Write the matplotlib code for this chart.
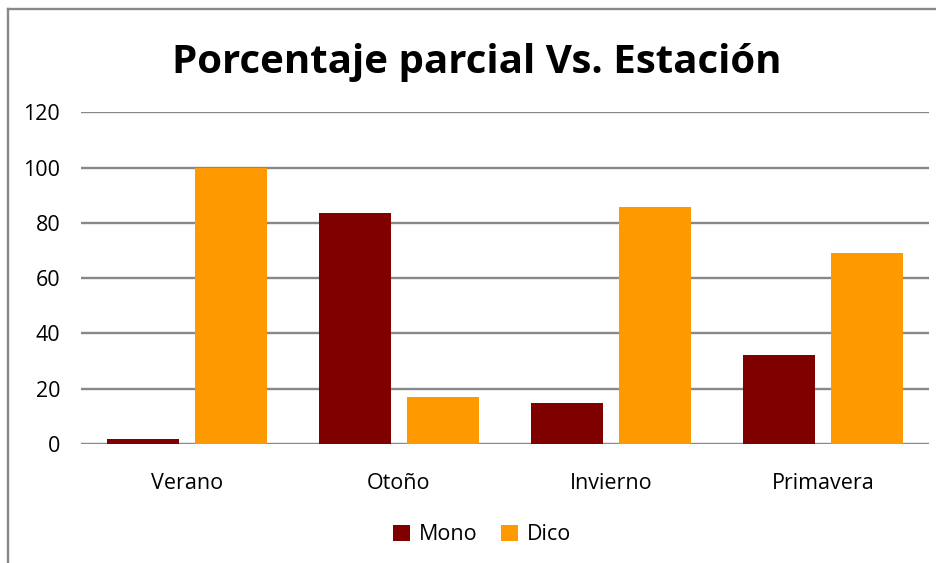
import matplotlib
matplotlib.use("Agg")
import matplotlib.pyplot as plt
import numpy as np

categories = ["Verano", "Otoño", "Invierno", "Primavera"]
mono = [1.8, 83.6, 14.8, 32.2]
dico = [100.0, 17.0, 85.7, 69.1]
yticks = [0, 20, 40, 60, 80, 100, 120]

plt.rcParams['font.family'] = ['Open Sans', 'DejaVu Sans']

W, H = 936, 563
fig = plt.figure(figsize=(W/100, H/100), dpi=100)
ax = fig.add_axes([81/W, 1-444/H, (929-81)/W, (444-112.3)/H])

x = np.arange(len(categories))
bw = 0.34
off = 0.209
ax.bar(x - off, mono, bw, color="#800000", label="Mono", zorder=3)
ax.bar(x + off, dico, bw, color="#FF9900", label="Dico", zorder=3)

ax.set_xlim(-0.5, len(categories) - 0.5)
ax.set_ylim(0, 120)
ax.set_yticks(yticks)
ax.set_yticklabels([str(t) for t in yticks], fontsize=15.5)
ax.set_xticks(x)
ax.set_xticklabels(categories, fontsize=15.5)
ax.tick_params(axis='y', length=0, pad=15)
ax.tick_params(axis='x', length=0, pad=21)
ax.yaxis.grid(True, color="#888888", linewidth=1.7, zorder=0)
for s in ax.spines.values():
    s.set_visible(False)

fig.text(477/W, 1-62/H, "Porcentaje parcial Vs. Estación", ha='center', va='center',
         fontsize=29, fontweight='bold')

leg = fig.legend(loc='center', bbox_to_anchor=(482/W, 1-535/H), ncol=2, frameon=False,
                 fontsize=15.5, handlelength=0.8, handleheight=0.8, handletextpad=0.4,
                 columnspacing=1.1)

fig.lines.append(plt.Line2D([8/W, 8/W], [0, 1-9/H], transform=fig.transFigure, color="#888888", linewidth=1.7))
fig.lines.append(plt.Line2D([8/W, 1], [1-9/H, 1-9/H], transform=fig.transFigure, color="#888888", linewidth=1.7))

fig.savefig("out.png", dpi=100)
